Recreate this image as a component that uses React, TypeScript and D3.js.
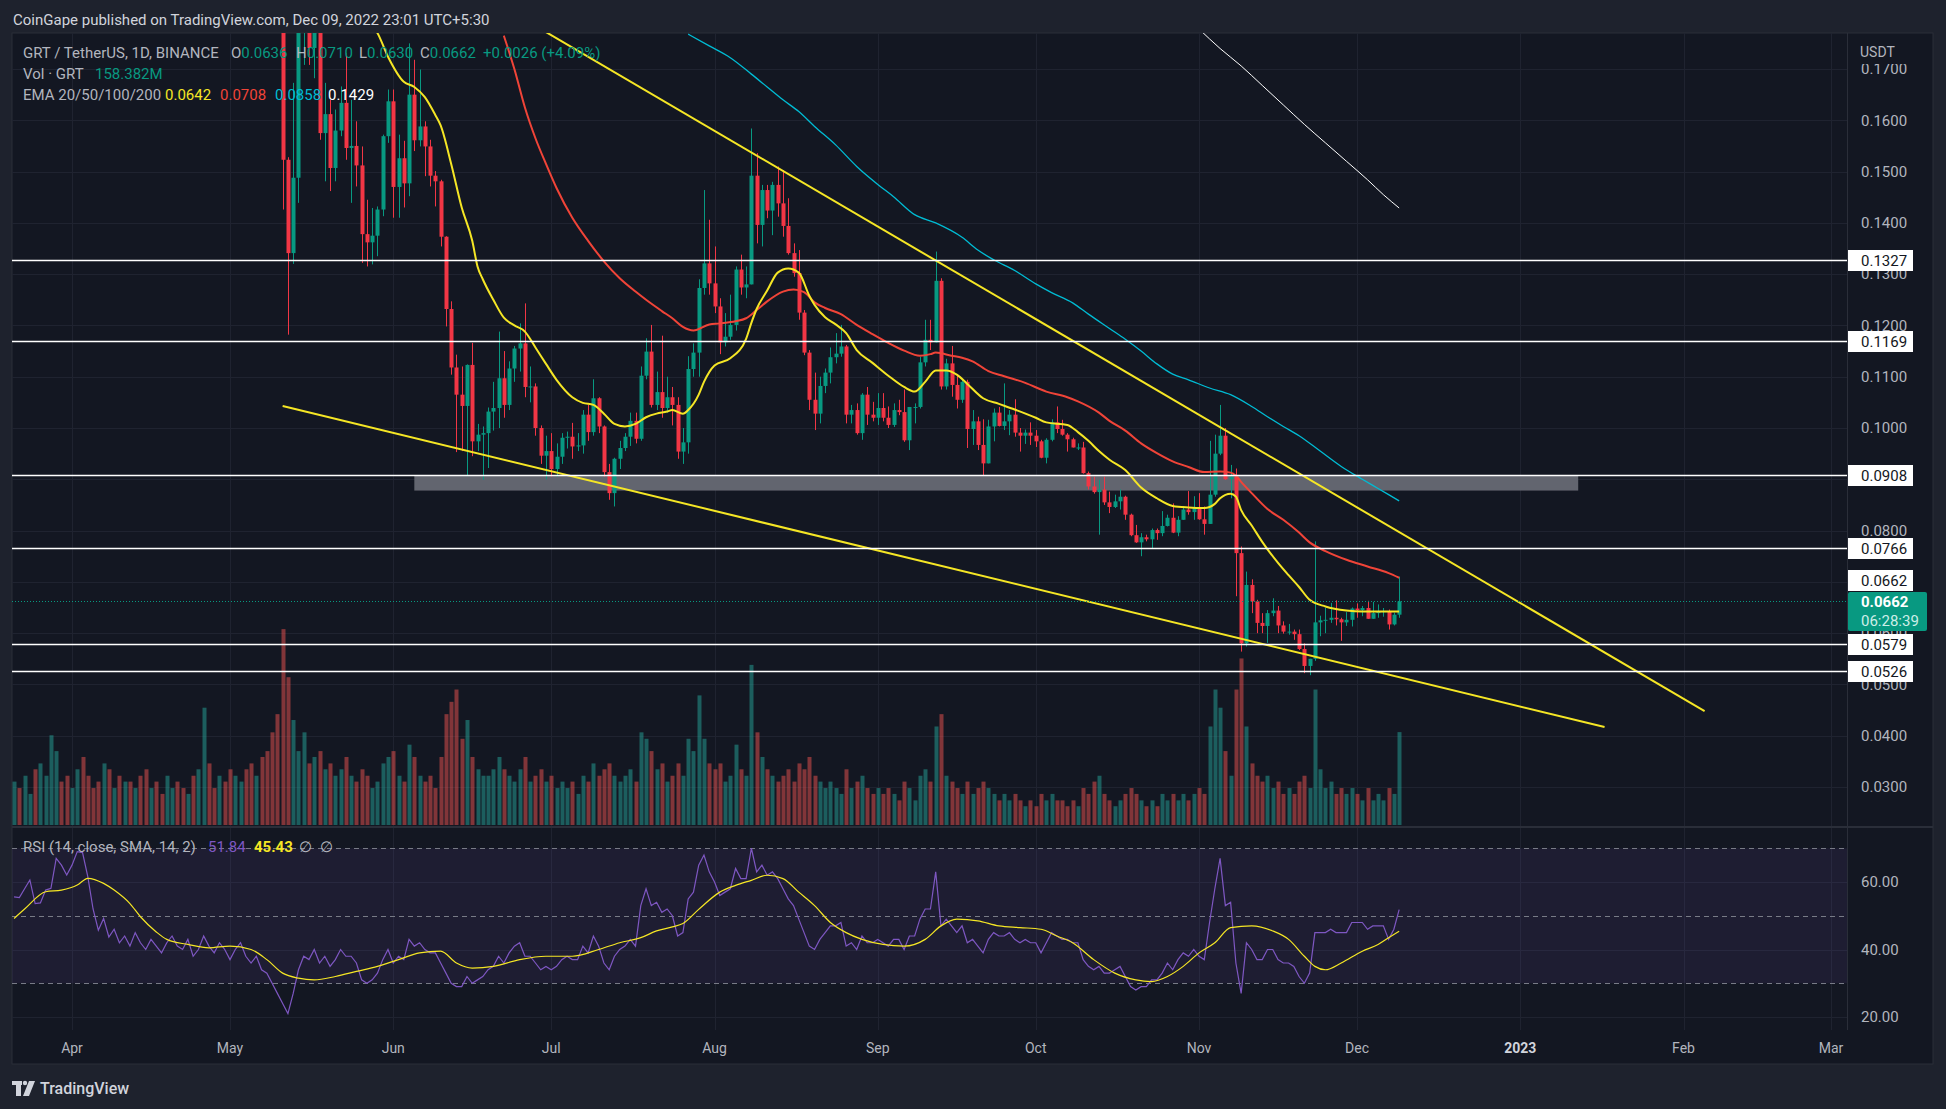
import React from "react";
import * as d3 from "d3";

// daily GRT/USDT candles, first one is Mar 21 2022 (day -11 relative to Apr 1)
const firstDay = -11;

const opens = [
  .370,.378,.372,.385,.398,.382,.383,.395,.398,.440,
  .432,.420,.432,.452,.450,.425,.395,.372,.382,.362,
  .370,.355,.362,.350,.364,.352,.344,.354,.347,.338,
  .349,.357,.346,.342,.352,.333,.340,.354,.342,.334,
  .345,.338,.325,.336,.344,.326,.315,.322,.300,.290,
  .262,.225,.1523,.1341,.1488,.182,.186,.1741,.180,.1575,
  .1612,.1507,.1580,.1634,.1546,.1550,.1512,.1378,.1362,.1375,
  .1426,.1569,.1637,.1470,.1526,.1477,.1650,.1561,.1588,.1549,
  .1492,.1481,.1373,.1232,.1118,.1065,.1043,.1123,.0974,.0987,
  .0990,.1032,.1039,.1097,.1045,.1116,.1155,.1165,.1080,.1081,
  .1000,.0946,.0955,.0920,.0944,.0981,.0983,.0964,.0966,.1026,
  .0992,.1058,.1003,.0914,.0873,.0940,.0961,.0983,.1014,.0979,
  .1102,.1149,.1045,.1070,.1039,.1060,.1045,.0954,.0972,.1115,
  .1147,.1273,.1321,.1282,.1237,.1167,.1178,.1201,.1309,.1274,
  .1280,.1492,.1396,.1464,.1424,.1474,.1438,.1394,.1341,.1302,
  .1225,.1147,.1055,.1028,.1082,.1108,.1138,.1145,.1159,.1026,
  .1035,.0990,.1065,.1026,.1020,.1039,.1020,.1006,.1035,.1031,
  .0976,.1041,.1041,.1128,.1172,.1167,.1287,.1081,.1126,.1084,
  .1055,.1090,.0998,.1013,.0967,.0931,.1003,.1030,.1004,.1013,
  .1026,.0991,.0985,.0991,.0985,.0974,.0942,.0977,.1011,.0998,
  .0987,.0978,.0962,.0962,.0912,.0886,.0875,.0880,.0855,.0846,
  .0857,.0866,.0831,.0791,.0777,.0787,.0783,.0801,.0795,.0809,
  .0825,.0796,.0821,.0841,.0836,.0844,.0822,.0813,.0870,.0950,
  .0985,.0900,.0905,.0756,.0580,.0694,.0662,.0620,.0614,.0639,
  .0644,.0615,.0603,.0603,.0598,.0569,.0536,.0550,.0621,.0625,
  .0626,.0630,.0627,.0621,.0626,.0648,.0645,.0649,.0628,.0639,
  .0642,.0643,.0617,.0636,
];
const highs = [
  .385,.383,.390,.405,.402,.392,.400,.410,.455,.452,
  .438,.440,.462,.468,.455,.432,.400,.390,.386,.375,
  .372,.368,.366,.370,.368,.356,.360,.358,.350,.352,
  .362,.360,.350,.356,.354,.345,.360,.358,.346,.350,
  .348,.340,.340,.350,.348,.330,.328,.325,.305,.295,
  .268,.238,.1528,.1673,.190,.195,.190,.185,.183,.1673,
  .1640,.1621,.1666,.1731,.1640,.1598,.1549,.1445,.1429,.1432,
  .1572,.1660,.1660,.1572,.1560,.1750,.1718,.1699,.1598,.1562,
  .1501,.1484,.1374,.1247,.1143,.1120,.1124,.1166,.1008,.1003,
  .1040,.1090,.1188,.1150,.1130,.1160,.1204,.1243,.1120,.1087,
  .1005,.0985,.0990,.0970,.0990,.0993,.1010,.0990,.1035,.1045,
  .1095,.1060,.1005,.0930,.0942,.0975,.0990,.1030,.1030,.1120,
  .1175,.1201,.1110,.1180,.1100,.1080,.1060,.1000,.1140,.1165,
  .1290,.1464,.1406,.1354,.1253,.1224,.1260,.1315,.1338,.1315,
  .1584,.1536,.1474,.1474,.1480,.1510,.1503,.1448,.1360,.1347,
  .1230,.1152,.1108,.1100,.1116,.1157,.1185,.1201,.1162,.1045,
  .1048,.1068,.1080,.1051,.1068,.1068,.1042,.1048,.1055,.1075,
  .1041,.1048,.1139,.1211,.1211,.1344,.1292,.1135,.1160,.1105,
  .1094,.1094,.1035,.1022,.1017,.1016,.1038,.1041,.1087,.1035,
  .1056,.1000,.0997,.1011,.0996,.0977,.0980,.1017,.1042,.1016,
  .0990,.0981,.0970,.0973,.0915,.0905,.0899,.0905,.0876,.0870,
  .0880,.0868,.0833,.0811,.0795,.0792,.0804,.0804,.0838,.0831,
  .0853,.0828,.0847,.0877,.0867,.0873,.0847,.0975,.0987,.1045,
  .1000,.0928,.0921,.0769,.0720,.0705,.0665,.0639,.0645,.0668,
  .0653,.0623,.0618,.0607,.0607,.0580,.0550,.0779,.0634,.0649,
  .0659,.0664,.0630,.0641,.0650,.0658,.0653,.0663,.0661,.0656,
  .0649,.0646,.0640,.0710,
];
const lows = [
  .362,.365,.368,.380,.375,.374,.378,.388,.395,.425,
  .410,.415,.428,.440,.418,.388,.365,.366,.355,.356,
  .348,.350,.344,.346,.348,.338,.340,.342,.332,.335,
  .345,.340,.336,.338,.328,.325,.334,.336,.328,.330,
  .332,.318,.320,.330,.320,.308,.310,.295,.282,.255,
  .215,.1426,.1182,.1320,.1439,.1708,.1708,.1682,.1562,.1481,
  .1462,.1481,.1569,.1523,.1439,.1471,.1322,.1315,.1319,.1335,
  .1413,.1556,.1410,.1410,.1430,.1452,.1540,.1549,.1491,.1471,
  .1432,.1354,.1198,.1104,.0953,.0955,.0906,.0945,.0955,.0899,
  .0922,.0995,.1000,.1020,.1035,.1090,.1110,.1060,.1050,.0985,
  .0930,.0900,.0905,.0905,.0930,.0960,.0940,.0955,.0950,.0975,
  .0985,.0990,.0905,.0860,.0847,.0920,.0955,.0965,.0970,.0975,
  .1095,.1040,.1035,.1020,.1030,.1005,.0940,.0930,.0950,.1100,
  .1100,.1260,.1260,.1224,.1144,.1159,.1172,.1190,.1260,.1253,
  .1280,.1360,.1354,.1409,.1376,.1412,.1373,.1338,.1295,.1211,
  .1142,.1035,.0996,.1009,.1068,.1087,.1126,.1139,.1009,.1009,
  .0987,.0977,.1006,.1013,.1006,.1013,.1000,.1002,.1025,.0973,
  .0957,.1009,.1038,.1120,.1152,.1167,.1075,.1075,.1061,.1038,
  .1049,.0961,.0967,.0957,.0908,.0931,.0974,.1003,.0996,.0986,
  .0983,.0954,.0969,.0967,.0963,.0941,.0931,.0974,.0990,.0985,
  .0954,.0962,.0957,.0911,.0880,.0872,.0792,.0850,.0834,.0844,
  .0841,.0821,.0789,.0776,.0750,.0779,.0766,.0782,.0789,.0808,
  .0795,.0789,.0821,.0831,.0821,.0821,.0792,.0813,.0866,.0947,
  .0899,.0863,.0672,.0564,.0574,.0639,.0600,.0600,.0581,.0633,
  .0600,.0599,.0597,.0587,.0567,.0522,.0518,.0546,.0594,.0600,
  .0620,.0615,.0585,.0614,.0613,.0630,.0633,.0628,.0628,.0630,
  .0632,.0607,.0615,.0630,
];
const closes = [
  .378,.372,.385,.398,.382,.383,.395,.398,.440,.432,
  .420,.432,.452,.450,.425,.395,.372,.382,.362,.370,
  .355,.362,.350,.364,.352,.344,.354,.347,.338,.349,
  .357,.346,.342,.352,.333,.340,.354,.342,.334,.345,
  .338,.325,.336,.344,.326,.315,.322,.300,.290,.262,
  .225,.1523,.1341,.1488,.182,.186,.1741,.180,.1575,.1612,
  .1507,.1580,.1634,.1546,.1550,.1512,.1378,.1362,.1375,.1426,
  .1569,.1637,.1470,.1526,.1477,.1650,.1561,.1588,.1549,.1492,
  .1481,.1373,.1232,.1118,.1065,.1043,.1123,.0974,.0987,.0990,
  .1032,.1039,.1097,.1045,.1116,.1155,.1165,.1080,.1081,.1000,
  .0946,.0955,.0920,.0944,.0981,.0983,.0964,.0966,.1026,.0992,
  .1058,.1003,.0914,.0873,.0940,.0961,.0983,.1014,.0979,.1102,
  .1149,.1045,.1070,.1039,.1060,.1045,.0954,.0972,.1115,.1147,
  .1273,.1321,.1282,.1237,.1167,.1178,.1201,.1309,.1274,.1280,
  .1492,.1396,.1464,.1424,.1474,.1438,.1394,.1341,.1302,.1225,
  .1147,.1055,.1028,.1082,.1108,.1138,.1145,.1159,.1026,.1035,
  .0990,.1065,.1026,.1020,.1039,.1020,.1006,.1035,.1031,.0976,
  .1041,.1041,.1128,.1172,.1167,.1287,.1081,.1126,.1084,.1055,
  .1090,.0998,.1013,.0967,.0931,.1003,.1030,.1004,.1013,.1026,
  .0991,.0985,.0991,.0985,.0974,.0942,.0977,.1011,.0998,.0987,
  .0978,.0962,.0962,.0912,.0886,.0875,.0880,.0855,.0846,.0857,
  .0866,.0831,.0791,.0777,.0787,.0783,.0801,.0795,.0809,.0825,
  .0796,.0821,.0841,.0836,.0844,.0822,.0813,.0870,.0950,.0985,
  .0900,.0905,.0756,.0580,.0694,.0662,.0620,.0614,.0639,.0644,
  .0615,.0603,.0603,.0598,.0569,.0536,.0550,.0621,.0625,.0626,
  .0630,.0627,.0621,.0626,.0648,.0645,.0649,.0628,.0639,.0642,
  .0643,.0617,.0636,.0662,
];
// volume in millions of GRT
const volumes = [
  74,63,84,53,95,105,84,153,126,74,84,
  63,95,116,84,63,74,105,95,63,84,74,
  74,63,84,95,63,74,53,84,63,74,
  63,53,84,95,200,105,63,84,74,95,
  84,74,95,105,84,116,126,158,189,
  334,252,179,126,158,
  105,116,126,95,105,84,95,116,84,74,95,84,63,74,105,116,
  126,84,74,137,116,84,74,84,63,116,189,210,231,147,179,116,
  95,84,84,95,116,95,84,74,95,116,74,84,95,74,84,63,74,63,74,53,84,74,105,84,95,105,84,74,84,95,74,
  158,147,126,95,105,74,84,105,84,147,126,221,147,105,95,105,74,84,137,95,84,
  273,158,116,95,84,74,84,95,74,105,95,116,84,74,63,74,63,53,95,63,74,84,63,53,63,53,63,53,42,74,63,42,84,95,74,
  168,189,84,74,63,53,74,53,63,74,63,53,42,53,42,53,42,32,42,32,53,42,53,42,42,32,42,32,63,53,74,84,53,42,32,42,53,63,53,42,32,42,32,53,42,53,42,53,42,53,63,53,
  168,231,200,126,84,231,284,168,105,84,74,84,63,74,53,63,53,74,84,63,231,95,63,74,53,63,53,63,53,42,63,42,53,42,63,53,158.382,
];
const rsi = [
  55.6,55.4,58,60.6,53.6,53.8,57.6,58.1,67,65,
  62.1,65,69,68.7,61.6,52,45.7,49.2,43.7,46,
  42,44,41,45,42,40,43,41,39,42,
  44,41,40,43,38,40,44,41,39,42,
  40,37,40,42,38,36,38,34,33,30,
  27,24,21,27,34,38,37,40,36,38,
  35,37,40,38,38,36,31,30,31,33,
  37,40,36,38,37,43,41,42,40,39,
  39,36,33,30,29,29,32,30,31,32,
  34,35,38,36,39,41,42,38,38,36,
  34,35,34,35,37,38,37,37,41,39,
  44,41,36,34,38,40,41,43,41,53,
  58,53,54,51,52,50,44,45,55,57,
  65,68,63,60,56,57,58,64,61,61,
  70,63,65,62,63,61,58,55,53,49,
  45,41,40,43,45,47,47,48,41,42,
  40,44,42,42,43,42,41,43,43,40,
  44,44,49,52,52,63,47,49,47,45,
  47,42,43,41,39,43,45,44,44,45,
  43,42,43,42,42,39,42,45,44,43,
  43,42,42,37,35,34,35,33,33,34,
  35,32,29,28,29,29,31,31,33,36,
  34,37,39,38,40,38,37,48,58,67,
  53,54,36,27,42,40,37,37,40,40,
  37,36,36,35,32,30,33,45,45,45,
  46,45,45,45,48,48,48,46,47,47,
  47,43,46,51.84,
];
const rsiMaDays = [
  -11,-9,-5,-2,1,3,6,8,11,13,16,18,22,26,30,34,37,40,43,46,
  50,54,58,62,66,70,73,76,80,85,90,95,100,104,108,111,114,116,119,123,
  126,129,132,135,138,141,144,147,150,154,158,162,165,168,172,176,180,184,187,190,
  194,198,202,205,208,211,214,217,220,224,228,231,234,236,238,241,245,248,250,252,
];
const rsiMaValues = [
  49.2,52,57.1,57.6,59.1,61.1,59.6,57.6,53.6,49.7,45.2,43,41.5,40.5,41,40,37,33,31.5,31,
  32,33.5,35,37,39,39.5,36,34.5,35,37,38,38,40,42,43.5,45.5,46.7,47.7,51.9,57,
  59,60.5,62,61,57,53,48,45,43,41.5,41,43,47,49,48.5,47,46.5,46,44,42,
  37,33,31,30.5,32,35,39,42,46.5,47,45.5,43,38,35,34,36,39.5,41.5,43.5,45.43,
];

// EMA curves: [day, price]
const ema20: [number, number][] = [
  [57,.1785],[58,.1770],[60,.1724],[63,.1675],[65,.1665],[67,.1645],[69,.1610],[70,.1590],[72,.1515],[74,.1430],
  [76,.1365],[77,.1315],[78,.1290],[80,.1250],[82,.1215],[84,.1200],[86,.1188],[88,.1157],[90,.1125],[92,.1094],
  [95,.1060],[97,.1049],[99,.1045],[101,.1028],[103,.1008],[105,.1003],[107,.1008],[109,.1021],[111,.1028],[113,.1032],
  [114,.1035],[116,.1028],[117,.1035],[119,.1065],[120,.1090],[122,.1122],[125,.1136],[128,.1174],[129,.1205],[130,.1232],
  [132,.1268],[134,.1303],[136,.1311],[138,.1303],[140,.1258],[141,.1240],[143,.1216],[145,.1202],[147,.1185],[149,.1152],
  [152,.1127],[155,.1102],[158,.1080],[160,.1071],[162,.1090],[164,.1112],[166,.1112],[168,.1104],[170,.1086],[173,.1058],
  [176,.1047],[179,.1036],[183,.1020],[185,.1011],[189,.1006],[191,.0992],[193,.0975],[195,.0955],[197,.0938],[200,.0918],
  [203,.0884],[206,.0863],[209,.0848],[212,.0845],[215,.0844],[217,.0852],[218,.0863],[220,.0872],[221,.0866],[222,.0840],
  [224,.0810],[226,.0778],[229,.0737],[231,.0713],[233,.0690],[235,.0665],[238,.0652],[242,.0644],[245,.0642],[248,.0642],[252,.0642],
];
const ema50: [number, number][] = [
  [82,.1765],[84,.1700],[86,.1625],[88,.1565],[90,.1515],[92,.1468],[95,.1410],[98,.1365],[101,.1325],[104,.1292],
  [107,.1266],[109,.1250],[112,.1228],[114,.1214],[116,.1197],[118,.1190],[121,.1202],[123,.1204],[126,.1208],[128,.1214],
  [130,.1230],[132,.1247],[135,.1266],[137,.1270],[139,.1265],[141,.1245],[143,.1234],[146,.1222],[149,.1201],[152,.1183],
  [155,.1166],[158,.1151],[161,.1141],[163,.1144],[164,.1147],[167,.1141],[169,.1137],[171,.1130],[174,.1111],[177,.1101],
  [181,.1088],[185,.1071],[189,.1060],[191,.1052],[195,.1030],[197,.1014],[200,.0995],[203,.0970],[206,.0951],[209,.0935],
  [212,.0924],[215,.0914],[218,.0915],[220,.0913],[221,.0907],[222,.0895],[224,.0873],[227,.0842],[230,.0821],[233,.0796],
  [235,.0777],[238,.0760],[242,.0743],[246,.0730],[250,.0717],[252,.0708],
];
const ema100: [number, number][] = [
  [117,.1768],[121,.1745],[125,.1722],[129,.1690],[132,.1665],[135,.1640],[138,.1617],[141,.1588],[145,.1552],[149,.1510],
  [153,.1475],[156,.1451],[160,.1416],[164,.1400],[169,.1372],[172,.1347],[175,.1328],[179,.1307],[183,.1281],[186,.1264],
  [190,.1244],[193,.1222],[197,.1194],[200,.1173],[203,.1150],[206,.1125],[209,.1105],[212,.1094],[216,.1078],[220,.1065],
  [224,.1042],[227,.1022],[230,.1003],[233,.0985],[237,.0955],[241,.0925],[245,.0900],[248,.0882],[252,.0858],
];
const ema200: [number, number][] = [
  [214,.1778],[218,.1740],[222,.1706],[226,.1668],[230,.1630],[234,.1592],[238,.1556],[242,.1520],[246,.1484],[249,.1455],[252,.1429],
];

// drawings: trend lines [day, price], support zone and horizontal levels
const upperTrend: [number, number][] = [[90, .1772], [310, .0448]];
const lowerTrend: [number, number][] = [[40, .1043], [291, .0417]];
const zone = { from: 65, to: 286, low: .0878, high: .0907 };
const levels = [.1327, .1169, .0908, .0766, .0579, .0526];

const priceTicks = [.17, .16, .15, .14, .13, .12, .11, .10, .09, .08, .07, .06, .05, .04, .03];
const rsiTicks = [60, 40, 20];
const monthLabels = ["Apr", "May", "Jun", "Jul", "Aug", "Sep", "Oct", "Nov", "Dec", "2023", "Feb", "Mar"];

const W = 1946, H = 1109;
const L = 12, PR = 1847, FR = 1933;
const mainTop = 33, mainBot = 826, rsiTop = 828, rsiBot = 1030, frameBot = 1064;

const t0 = Date.UTC(2022, 3, 1);
const x = d3.scaleUtc().domain([new Date(t0), new Date(Date.UTC(2023, 2, 1))]).range([72, 1831]);
const dayX = (d: number) => x(new Date(t0 + d * 864e5));
const y = d3.scaleLinear().domain([0.03, 0.17]).range([787, 69]);
const yVol = d3.scaleLinear().domain([0, 341]).range([825, 625]);
const yRsi = d3.scaleLinear().domain([20, 60]).range([1017, 882]);

const UP = "#089981", DOWN = "#f23645";
const FONT = "Roboto, 'Noto Sans', sans-serif";

const priceLine = d3.line<[number, number]>().x(d => dayX(d[0])).y(d => y(d[1])).curve(d3.curveMonotoneX);
const straight = d3.line<[number, number]>().x(d => dayX(d[0])).y(d => y(d[1]));
const rsiLine = d3.line<number>().x((_, i) => dayX(i + firstDay)).y(d => yRsi(d));
const rsiMaLine = d3.line<number>().x((_, i) => dayX(rsiMaDays[i])).y(d => yRsi(d)).curve(d3.curveMonotoneX);

export default function App() {
  const months = d3.utcMonth.range(new Date(t0), new Date(Date.UTC(2023, 2, 2)));
  const last = closes[closes.length - 1];
  return (
    <svg width={W} height={H} style={{ position: "fixed", left: 0, top: 0, fontFamily: FONT }}>
      <defs>
        <clipPath id="mainClip"><rect x={L} y={mainTop} width={PR - L} height={mainBot - mainTop} /></clipPath>
        <clipPath id="rsiClip"><rect x={L} y={rsiTop} width={PR - L} height={rsiBot - rsiTop} /></clipPath>
      </defs>
      <rect width={W} height={H} fill="#1e222d" />
      <text x={13} y={25} fill="#d1d4dc" fontSize={15}>CoinGape published on TradingView.com, Dec 09, 2022 23:01 UTC+5:30</text>

      <rect x={L} y={mainTop} width={FR - L} height={frameBot - mainTop} fill="#131722" stroke="#2a2e39" />

      {/* grid */}
      {priceTicks.map(p => (
        <line key={p} x1={L} x2={PR} y1={Math.round(y(p)) + .5} y2={Math.round(y(p)) + .5} stroke="#1f2330" />
      ))}
      {rsiTicks.map(r => (
        <line key={r} x1={L} x2={PR} y1={Math.round(yRsi(r)) + .5} y2={Math.round(yRsi(r)) + .5} stroke="#1f2330" />
      ))}
      {months.map(m => (
        <line key={+m} x1={Math.round(x(m)) + .5} x2={Math.round(x(m)) + .5} y1={mainTop} y2={rsiBot} stroke="#1f2330" />
      ))}

      <g clipPath="url(#mainClip)">
        <rect x={dayX(zone.from)} y={y(zone.high)} width={dayX(zone.to) - dayX(zone.from)} height={y(zone.low) - y(zone.high)} fill="#62656f" />
        {volumes.map((v, i) => {
          const cx = Math.round(dayX(i + firstDay));
          const up = closes[i] >= opens[i];
          return <rect key={i} x={cx - 1.5} y={yVol(v)} width={4} height={825 - yVol(v)}
            fill={up ? "rgba(38,166,154,0.5)" : "rgba(239,83,80,0.5)"} />;
        })}
        {closes.map((c, i) => {
          const o = opens[i];
          const cx = Math.round(dayX(i + firstDay));
          const col = c >= o ? UP : DOWN;
          const top = y(Math.max(o, c)), bot = y(Math.min(o, c));
          return (
            <g key={i}>
              <line x1={cx + .5} x2={cx + .5} y1={y(highs[i])} y2={y(lows[i])} stroke={col} />
              <rect x={cx - 1.5} y={top} width={4} height={Math.max(1, bot - top)} fill={col} />
            </g>
          );
        })}
        <path d={priceLine(ema200) || ""} fill="none" stroke="#ffffff" strokeWidth={1} />
        <path d={priceLine(ema100) || ""} fill="none" stroke="#00bcd4" strokeWidth={1.3} />
        <path d={priceLine(ema50) || ""} fill="none" stroke="#f04438" strokeWidth={2} />
        <path d={priceLine(ema20) || ""} fill="none" stroke="#f5e625" strokeWidth={2} />
        <path d={straight(upperTrend) || ""} fill="none" stroke="#f5e625" strokeWidth={2} />
        <path d={straight(lowerTrend) || ""} fill="none" stroke="#f5e625" strokeWidth={2} />
        {levels.map(p => (
          <line key={p} x1={L} x2={PR} y1={Math.round(y(p)) + .5} y2={Math.round(y(p)) + .5} stroke="#ffffff" strokeWidth={1.3} />
        ))}
        <line x1={L} x2={PR} y1={Math.round(y(last)) + .5} y2={Math.round(y(last)) + .5}
          stroke={UP} strokeDasharray="1 2" />
      </g>

      {/* legend */}
      <text x={23} y={58} fontSize={15} fill="#b2b5be">
        <tspan>GRT / TetherUS, 1D, BINANCE</tspan>
        <tspan x={231}>O</tspan><tspan fill={UP}>0.0636</tspan>
        <tspan x={296}>H</tspan><tspan fill={UP}>0.0710</tspan>
        <tspan x={359}>L</tspan><tspan fill={UP}>0.0630</tspan>
        <tspan x={420}>C</tspan><tspan fill={UP}>0.0662</tspan>
        <tspan x={483} fill={UP}>+0.0026 (+4.09%)</tspan>
      </text>
      <text x={23} y={79} fontSize={15} fill="#b2b5be">
        <tspan>Vol · GRT</tspan><tspan x={95} fill={UP}>158.382M</tspan>
      </text>
      <text x={23} y={100} fontSize={15} fill="#b2b5be">
        <tspan>EMA 20/50/100/200</tspan>
        <tspan x={165} fill="#f5e625">0.0642</tspan>
        <tspan x={220} fill="#f04438">0.0708</tspan>
        <tspan x={275} fill="#00bcd4">0.0858</tspan>
        <tspan x={328} fill="#ffffff">0.1429</tspan>
      </text>

      {/* pane separator */}
      <rect x={L} y={mainBot} width={FR - L} height={rsiTop - mainBot} fill="#2a2e39" />

      {/* RSI pane */}
      <rect x={L} y={yRsi(70)} width={PR - L} height={yRsi(30) - yRsi(70)} fill="rgba(126,87,194,0.1)" />
      {[70, 50, 30].map(r => (
        <line key={r} x1={L} x2={PR} y1={Math.round(yRsi(r)) + .5} y2={Math.round(yRsi(r)) + .5} stroke="#787b86" strokeDasharray="5 4" />
      ))}
      <g clipPath="url(#rsiClip)">
        <path d={rsiLine(rsi) || ""} fill="none" stroke="#7e57c2" strokeWidth={1.2} />
        <path d={rsiMaLine(rsiMaValues) || ""} fill="none" stroke="#f5e625" strokeWidth={1.2} />
      </g>
      <text x={23} y={852} fontSize={15} fill="#b2b5be">
        <tspan>RSI (14, close, SMA, 14, 2)</tspan>
        <tspan x={208} fill="#7e57c2">51.84</tspan>
        <tspan x={254} fill="#f5e625" fontWeight="bold">45.43</tspan>
        <tspan x={299}>∅</tspan>
        <tspan x={320}>∅</tspan>
      </text>

      {/* price axis */}
      <line x1={PR + .5} x2={PR + .5} y1={mainTop} y2={rsiBot} stroke="#2a2e39" />
      {priceTicks.map(p => (
        <text key={p} x={1861} y={y(p)} dy="0.35em" fontSize={15} fill="#b2b5be">{p.toFixed(4)}</text>
      ))}
      <rect x={PR + 1} y={mainTop + 1} width={FR - PR - 2} height={30} fill="#131722" />
      <text x={1860} y={57} fontSize={14} fill="#b2b5be">USDT</text>
      {rsiTicks.map(r => (
        <text key={r} x={1861} y={yRsi(r)} dy="0.35em" fontSize={15} fill="#b2b5be">{r.toFixed(2)}</text>
      ))}
      {levels.map(p => (
        <g key={p}>
          <rect x={PR + 1} y={Math.round(y(p)) - 10} width={65} height={21} fill="#ffffff" />
          <text x={1861} y={Math.round(y(p)) + .5} dy="0.35em" fontSize={15} fill="#131722">{p.toFixed(4)}</text>
        </g>
      ))}
      <rect x={PR + 1} y={Math.round(y(.0703)) - 10} width={65} height={21} fill="#ffffff" />
      <text x={1861} y={Math.round(y(.0703)) + .5} dy="0.35em" fontSize={15} fill="#131722">0.0662</text>
      <rect x={PR + 1} y={592} width={79} height={39} rx={2} fill={UP} />
      <text x={1861} y={607} fontSize={15} fontWeight="bold" fill="#ffffff">0.0662</text>
      <text x={1861} y={626} fontSize={15} fill="#cdeee8">06:28:39</text>

      {/* time axis */}
      {months.map((m, i) => (
        <text key={+m} x={x(m)} y={1053} fontSize={14} textAnchor="middle"
          fill={i === 9 ? "#d1d4dc" : "#b2b5be"} fontWeight={i === 9 ? "bold" : "normal"}>{monthLabels[i]}</text>
      ))}

      {/* footer logo */}
      <g fill="#d1d4dc">
        <rect x={12} y={1081} width={10} height={4} />
        <rect x={16} y={1081} width={5} height={15} />
        <circle cx={25} cy={1083} r={2.2} />
        <polygon points="29,1081 35,1081 29,1096 23,1096" />
      </g>
      <text x={40} y={1094} fontSize={16} fontWeight={500} fill="#d1d4dc">TradingView</text>
    </svg>
  );
}
